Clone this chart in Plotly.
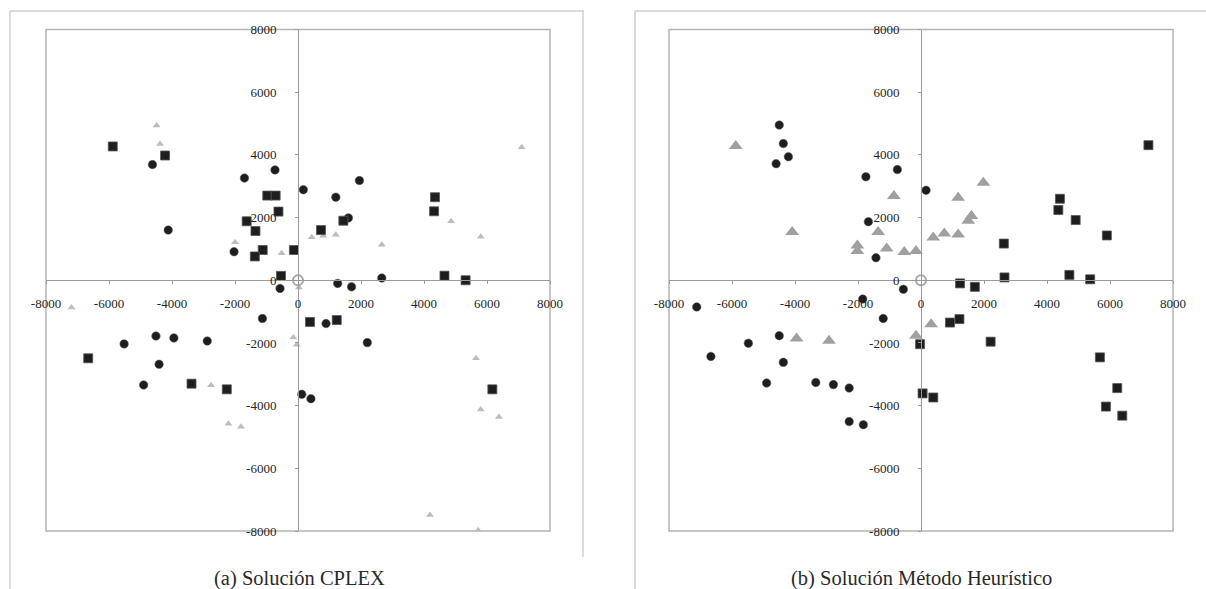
import plotly.graph_objects as go

# ---------------- data ----------------
tick_vals = [-8000, -6000, -4000, -2000, 0, 2000, 4000, 6000, 8000]
tick_text = ["-8000", "-6000", "-4000", "-2000", "0", "2000", "4000", "6000", "8000"]

# (a) Solución CPLEX
a_circ_x = [-4620, -4120, -1700, -730, -2030, -570, 170, 1950, 1200, 1600, 1260, 1700, 2660,
            -1130, -4510, -3940, -2880, -5520, -4410, -4900, 120, 410, 890, 2200]
a_circ_y = [3690, 1600, 3260, 3520, 910, -260, 2890, 3180, 2650, 1990, -100, -210, 70,
            -1220, -1780, -1840, -1940, -2030, -2680, -3340, -3640, -3780, -1380, -1990]
a_sq_x = [-5880, -4220, -975, -710, -620, -1630, -1350, -1120, -1370, -130, -540, 1440, 730,
          4350, 4320, 4650, 5320, 380, 1230, -6660, -3380, -2260, 6170]
a_sq_y = [4270, 3980, 2700, 2700, 2190, 1880, 1570, 965, 760, 965, 140, 1900, 1600,
          2650, 2200, 145, 0, -1330, -1270, -2490, -3300, -3480, -3480]
a_tri_x = [-4490, -4380, -2000, -520, 435, 800, 1200, 2660, 4860, 5800, 7100, -7190, -150, -40,
           -2760, -2210, -1810, 5650, 5800, 6380, 4190, 5720, 30]
a_tri_y = [4940, 4350, 1210, 860, 1370, 1420, 1450, 1130, 1880, 1390, 4240, -870, -1830, -2060,
           -3350, -4580, -4670, -2490, -4120, -4360, -7490, -7980, -230]

# (b) Solución Método Heurístico
b_circ_x = [-4500, -4370, -4210, -4600, -1750, -750, -1670, -1430, 160, -560, -7120, -1850,
            -1200, -4500, -5480, -6670, -4370, -4900, -3340, -2780, -2280, -2280, -1830]
b_circ_y = [4950, 4360, 3940, 3720, 3300, 3530, 1870, 720, 2870, -290, -850, -600,
            -1220, -1770, -2010, -2430, -2620, -3280, -3260, -3330, -3440, -4510, -4610]
b_sq_x = [7220, 2630, 4410, 4360, 4910, 5900, 1240, 1710, 2650, 4710, 5370, 920, 1220,
          -30, 2210, 5680, 6230, 5870, 6390, 50, 390]
b_sq_y = [4310, 1170, 2600, 2240, 1920, 1430, -100, -210, 90, 170, 30, -1350, -1240,
          -2040, -1960, -2460, -3440, -4030, -4320, -3610, -3740]
b_tri_x = [-5880, -4090, -860, -1360, -2020, -2020, -1090, -530, -160, 1980, 1180, 1500, 1600,
           390, 740, 1180, -3950, -2920, -160, 320]
b_tri_y = [4280, 1540, 2690, 1540, 1110, 930, 1010, 900, 930, 3110, 2630, 1900, 2050,
           1360, 1490, 1460, -1860, -1930, -1770, -1400]

depot_x = [0]
depot_y = [0]

captions = ["(a) Solución CPLEX", "(b) Solución Método Heurístico"]

# ---------------- layout helpers ----------------
W, H = 1206, 589
def fx(p):
    return p / W
def fy(p):
    return 1 - p / H

xdom1 = [fx(46), fx(550)]
xdom2 = [fx(669), fx(1173)]
ydom = [fy(531), fy(29.5)]
ymid = (ydom[0] + ydom[1]) / 2

fig = go.Figure()

DARK = "#1e1e1e"

def add_panel(cx, cy, sx, sy, tx, ty, xa, ya, tri_color, tri_size):
    fig.add_trace(go.Scatter(x=tx, y=ty, mode="markers", xaxis=xa, yaxis=ya,
                             marker=dict(symbol="triangle-up", size=tri_size, color=tri_color,
                                         line=dict(width=0))))
    fig.add_trace(go.Scatter(x=cx, y=cy, mode="markers", xaxis=xa, yaxis=ya,
                             marker=dict(symbol="circle", size=8.5, color=DARK,
                                         line=dict(width=0.5, color="#555"))))
    fig.add_trace(go.Scatter(x=sx, y=sy, mode="markers", xaxis=xa, yaxis=ya,
                             marker=dict(symbol="square", size=9, color=DARK,
                                         line=dict(width=0.8, color="#555"))))
    fig.add_trace(go.Scatter(x=depot_x, y=depot_y, mode="markers", xaxis=xa, yaxis=ya,
                             marker=dict(symbol="circle-open", size=10, color="#a8a8a8",
                                         line=dict(width=2))))

add_panel(a_circ_x, a_circ_y, a_sq_x, a_sq_y, a_tri_x, a_tri_y, "x", "y", "#bdbdbd", 7)
add_panel(b_circ_x, b_circ_y, b_sq_x, b_sq_y, b_tri_x, b_tri_y, "x2", "y2", "#a0a0a0", 12)

tickfont = dict(family="Liberation Serif", size=13, color="#262626")
axis_common = dict(range=[-8000, 8000], tickvals=tick_vals, ticktext=tick_text,
                   showgrid=False, zeroline=False, showline=True, linecolor="#9a9a9a",
                   linewidth=1, ticks="outside", ticklen=3, tickcolor="#9a9a9a",
                   tickfont=tickfont, anchor="free", fixedrange=True,
                   automargin=False)

fig.update_layout(
    width=W, height=H, margin=dict(l=0, r=0, t=0, b=0, pad=0, autoexpand=False),
    paper_bgcolor="white", plot_bgcolor="white", showlegend=False,
    xaxis=dict(domain=xdom1, position=ymid, ticklabelstandoff=8, **axis_common),
    yaxis=dict(domain=ydom, position=(xdom1[0] + xdom1[1]) / 2, ticklabelstandoff=16,
               **axis_common),
    xaxis2=dict(domain=xdom2, position=ymid, ticklabelstandoff=8, **axis_common),
    yaxis2=dict(domain=ydom, position=(xdom2[0] + xdom2[1]) / 2, ticklabelstandoff=16,
                **axis_common),
)

shapes = []
for xr, yr in [("x domain", "y domain"), ("x2 domain", "y2 domain")]:
    shapes.append(dict(type="rect", xref=xr, yref=yr, x0=0, x1=1, y0=0, y1=1,
                       line=dict(color="#b4b4b4", width=1.5), layer="below"))
# outer frames
FR = dict(color="#cfcfcf", width=1.5)
for (x0, y0, x1, y1) in [(10, 11, 10, 589), (10, 11, 584, 11), (583, 11, 583, 557),
                         (635, 11, 635, 589), (635, 11, 1206, 11)]:
    shapes.append(dict(type="line", xref="paper", yref="paper", x0=fx(x0), y0=fy(y0),
                       x1=fx(x1), y1=fy(y1), line=FR))
fig.update_layout(shapes=shapes)

for cap, cx in zip(captions, [299, 921]):
    fig.add_annotation(text=cap, xref="paper", yref="paper", x=fx(cx), y=fy(578),
                       xanchor="center", yanchor="middle", showarrow=False,
                       font=dict(family="Liberation Serif", size=20.5, color="#2a2a2a"))

fig.write_html("out.html")
